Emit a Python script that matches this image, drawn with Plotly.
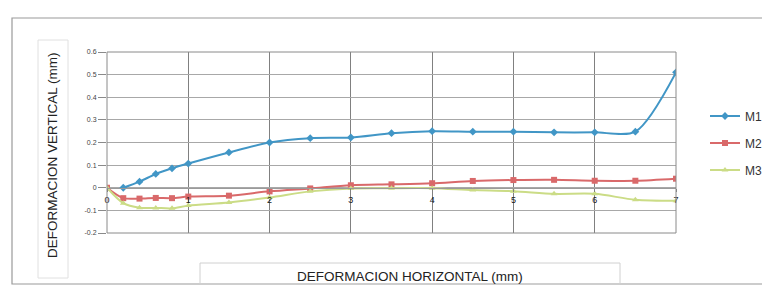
import plotly.graph_objects as go

# ---- data ----
x_m1 = [0.2, 0.4, 0.6, 0.8, 1.0, 1.5, 2.0, 2.5, 3.0, 3.5, 4.0, 4.5, 5.0, 5.5, 6.0, 6.5, 7.0]
m1 = [0.0, 0.027, 0.061, 0.086, 0.107, 0.156, 0.200, 0.219, 0.222, 0.241, 0.250, 0.248,
      0.248, 0.245, 0.245, 0.248, 0.51]
x_m23 = [0.0, 0.2, 0.4, 0.6, 0.8, 1.0, 1.5, 2.0, 2.5, 3.0, 3.5, 4.0, 4.5, 5.0, 5.5, 6.0, 6.5, 7.0]
m2 = [0.0, -0.046, -0.048, -0.045, -0.046, -0.039, -0.035, -0.016, -0.003, 0.011, 0.015,
      0.020, 0.030, 0.034, 0.035, 0.031, 0.031, 0.040]
m3 = [0.0, -0.068, -0.088, -0.089, -0.091, -0.079, -0.065, -0.043, -0.016, -0.003, -0.002,
      -0.002, -0.010, -0.015, -0.027, -0.027, -0.053, -0.058]
x_ticks = [0, 1, 2, 3, 4, 5, 6, 7]
y_ticks = [-0.2, -0.1, 0, 0.1, 0.2, 0.3, 0.4, 0.5, 0.6]
y_tick_text = ["-0.2", "-0.1", "0", "0.1", "0.2", "0.3", "0.4", "0.5", "0.6"]
series_names = ["M1", "M2", "M3"]

# ---- layout geometry (page pixels; the page body adds an 8px offset) ----
OFF = 8
W, H = 770 - OFF, 295 - OFF
L, R, T, B = 107, 676, 52, 233  # plot area in page pixels


def px(xp):
    return (xp - L) / (R - L)


def py(yp):
    return (B - yp) / (B - T)


fig = go.Figure()
styles = [
    ("#4196c6", "diamond"),
    ("#d9696a", "square"),
    ("#cbdc86", "triangle-up"),
]
for i, (xs, ys) in enumerate([(x_m1, m1), (x_m23, m2), (x_m23, m3)]):
    col, sym = styles[i]
    fig.add_trace(go.Scatter(x=xs, y=ys, name=series_names[i], mode="lines+markers",
                             legendgroup=f"g{i}",
                             line=dict(color=col, width=2, shape="spline", smoothing=0.8),
                             marker=dict(symbol=sym, size=6, color=col)))

ymin, ymax = -0.2, 0.6
zero_pos = (0 - ymin) / (ymax - ymin)

shapes = [
    dict(type="rect", xref="paper", yref="paper", x0=0, x1=1, y0=0, y1=1,
         line=dict(color="#8a8a8a", width=1)),
    dict(type="rect", xref="paper", yref="paper", x0=px(12), x1=px(790), y0=py(284), y1=py(18),
         line=dict(color="#9a9a9a", width=1.2), layer="below"),
    dict(type="rect", xref="paper", yref="paper", x0=px(200), x1=px(620), y0=py(284), y1=py(263),
         line=dict(color="#d0d0d0", width=1), layer="below"),
    dict(type="rect", xref="paper", yref="paper", x0=px(38), x1=px(68), y0=py(278), y1=py(40),
         line=dict(color="#e0e0e0", width=1), layer="below"),
]

fig.update_layout(
    width=W, height=H,
    margin=dict(l=L - OFF, r=W - (R - OFF), t=T - OFF, b=H - (B - OFF), pad=0,
                autoexpand=False),
    paper_bgcolor="white", plot_bgcolor="white",
    font=dict(family="Liberation Sans, Arial, sans-serif", color="#333333"),
    showlegend=True,
    legend=dict(x=px(705), xanchor="left", y=py(143), yanchor="middle",
                font=dict(size=12, color="#333333"), itemwidth=30,
                traceorder="grouped", tracegroupgap=8,
                bgcolor="rgba(0,0,0,0)"),
    xaxis=dict(range=[0, 7], tickvals=x_ticks, ticktext=[str(v) for v in x_ticks],
               showgrid=True, gridcolor="#808080", gridwidth=1,
               zeroline=False, showline=True, linecolor="#9a9a9a", linewidth=1,
               anchor="free", position=zero_pos, ticks="outside", ticklen=3,
               tickcolor="#808080", tickfont=dict(size=9, color="#1a1a1a")),
    yaxis=dict(range=[ymin, ymax], tickvals=y_ticks, ticktext=y_tick_text,
               showgrid=True, gridcolor="#a8a8a8", gridwidth=1, zeroline=False,
               showline=False, ticks="outside", ticklen=8, tickcolor="#8a8a8a",
               tickfont=dict(size=7, color="#444444")),
    shapes=shapes,
    annotations=[
        dict(text="DEFORMACION VERTICAL (mm)", xref="paper", yref="paper",
             x=px(52), y=py(155), textangle=-90, showarrow=False,
             font=dict(size=13.5, color="#222222"), xanchor="center", yanchor="middle"),
        dict(text="DEFORMACION HORIZONTAL (mm)", xref="paper", yref="paper",
             x=px(410), y=py(276), showarrow=False,
             font=dict(size=13.5, color="#222222"), xanchor="center", yanchor="middle"),
    ],
)

fig.write_html("out.html")
